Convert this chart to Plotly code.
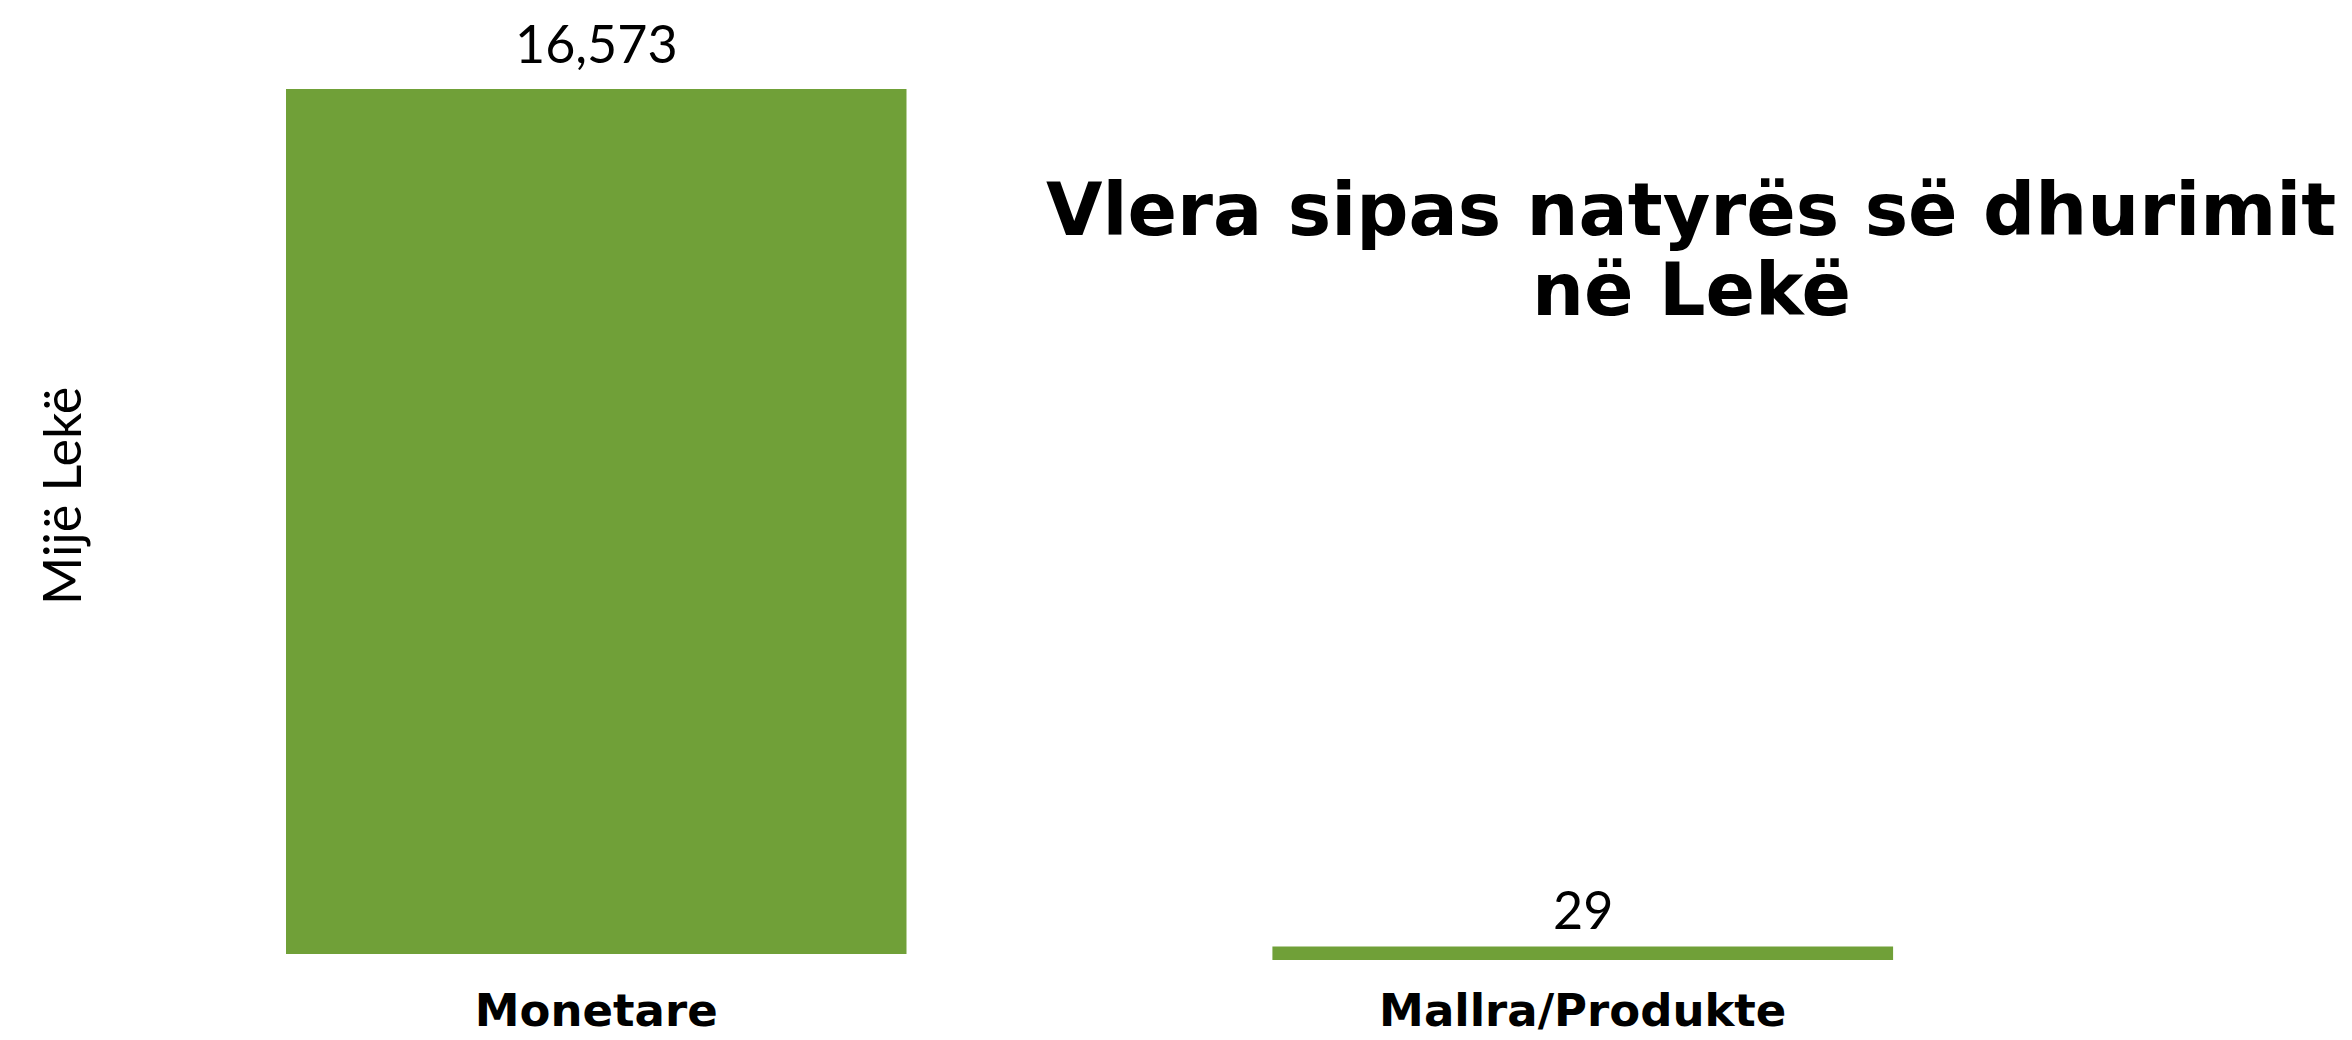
import plotly.graph_objects as go

categories = ["Monetare", "Mallra/Produkte"]
values = [16573, 29]
value_labels = ["16,573", "29"]
title_lines = ["Vlera sipas natyrës së dhurimit", "në Lekë"]
y_title = "Mijë Lekë"

GREEN = "#70A038"

fig = go.Figure(
    go.Bar(
        x=categories,
        y=values,
        cliponaxis=False,
        marker=dict(color=GREEN, line=dict(color=GREEN, width=[0, 12])),
        width=[0.629, 0.617],
        hoverinfo="skip",
    )
)

# page has an 8px body margin; figure sized to fit the viewport
W, H = 2344, 1032
BASE_Y = 946          # figure-pixel y of the zero line
TOP_Y = 81            # figure-pixel y of the highest value
BELOW = 6             # extra plot room below zero (px)
ml, mr = 95, 276
mt, mb = TOP_Y, H - BASE_Y - BELOW
PW, PH = W - ml - mr, H - mt - mb
ymax = max(values)
ymin = -ymax * BELOW / (BASE_Y - TOP_Y)


def px(x):
    return (x - ml) / PW


def py(y):
    return (H - mb - y) / PH


TITLE_FONT = "DejaVu Sans"
TS = 73

annotations = [
    dict(
        text=y_title,
        xref="paper", yref="paper",
        x=px(53), y=py(488),
        xanchor="center", yanchor="middle",
        textangle=-90, showarrow=False,
        font=dict(family="Lato", size=52, color="#000000"),
    ),
    dict(
        text=title_lines[0],
        xref="paper", yref="paper",
        x=px(1683), y=py(229 + 0.23 * TS),
        xanchor="center", yanchor="bottom",
        showarrow=False,
        font=dict(family=TITLE_FONT, size=TS, color="#000000", weight=700),
    ),
    dict(
        text=title_lines[1],
        xref="paper", yref="paper",
        x=px(1683), y=py(309 + 0.23 * TS),
        xanchor="center", yanchor="bottom",
        showarrow=False,
        font=dict(family=TITLE_FONT, size=TS, color="#000000", weight=700),
    ),
]

label_shift = [13, 10]
for cat, val, lab, ys in zip(categories, values, value_labels, label_shift):
    annotations.append(
        dict(
            text=lab, x=cat, y=val, xref="x", yref="y",
            xanchor="center", yanchor="bottom", yshift=ys,
            showarrow=False,
            font=dict(family="Lato", size=52, color="#000000"),
        )
    )

fig.update_layout(
    width=W,
    height=H,
    margin=dict(l=ml, r=mr, t=mt, b=mb, pad=0, autoexpand=False),
    paper_bgcolor="white",
    plot_bgcolor="white",
    showlegend=False,
    xaxis=dict(
        automargin=False,
        showgrid=False,
        zeroline=False,
        showline=False,
        ticks="",
        ticklabelstandoff=20,
        tickfont=dict(family=TITLE_FONT, size=45, color="#000000", weight=700),
    ),
    yaxis=dict(
        automargin=False,
        range=[ymin, ymax],
        showgrid=False,
        zeroline=False,
        showline=False,
        showticklabels=False,
        ticks="",
    ),
    annotations=annotations,
)

fig.write_html("out.html")
